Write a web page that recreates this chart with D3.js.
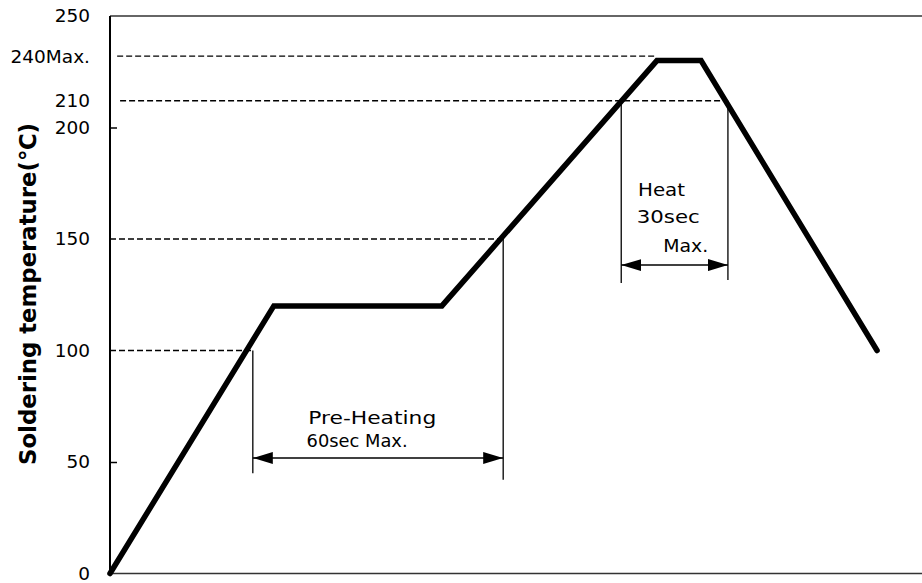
<!DOCTYPE html>
<html>
<head>
<meta charset="utf-8">
<script src="https://cdn.jsdelivr.net/npm/d3@7"></script>
<style>
  body { margin: 0; background: #fff; }
  svg { display: block; }
</style>
</head>
<body>
<div id="chart"></div>
<script>
// reflow profile (time in sec, temperature in degC)
var profileTime = [0, 39, 79, 130.2, 140.7, 182.6];
var profileTemp = [0, 120, 120, 230, 230, 100];

// y axis ticks and their printed labels
var tickValues = [0, 50, 100, 150, 200, 212, 232, 250];
var tickLabels = ["0", "50", "100", "150", "200", "210", "240Max.", "250"];
var tickMarks = [50, 200];

// dashed guide lines
var guideTemp = [100, 150, 212, 232];
var guideFrom = [0, 0, 2.4, 1.7];
var guideTo = [34, 93.6, 147.1, 130.2];

// vertical marker lines
var markTime = [34, 93.6, 121.7, 147.1];
var markTop = [100, 150, 212, 212];
var markBottom = [45, 42, 130.3, 131.6];

// double arrows for the time windows
var spanFrom = [34, 121.7];
var spanTo = [93.6, 147.1];
var spanTemp = [51.8, 138.3];

// annotation texts
var noteText = ["Pre-Heating", "60sec Max.", "Heat", "30sec", "Max."];
var noteTime = [47.2, 46.8, 125.7, 125.4, 131.7];
var noteTemp = [67.0, 56.9, 169.4, 157.0, 144.3];
var noteWidth = [128, 101, 47, 63, 45];

var width = 922, height = 583;
var margin = {top: 16, right: 0, bottom: 9.5, left: 110};

var svg = d3.select("#chart")
  .append("svg")
  .attr("width", width)
  .attr("height", height);

var x = d3.scaleLinear()
  .domain([0, 193.3])
  .range([margin.left, width - margin.right]);

var y = d3.scaleLinear()
  .domain([0, 250])
  .range([height - margin.bottom, margin.top]);

// frame: left axis, top and bottom lines
svg.append("line")
  .attr("x1", x(0)).attr("x2", x(193.3))
  .attr("y1", y(250)).attr("y2", y(250))
  .attr("stroke", "#333").attr("stroke-width", 1.3);
svg.append("line")
  .attr("x1", x(0)).attr("x2", x(193.3))
  .attr("y1", y(0)).attr("y2", y(0))
  .attr("stroke", "#333").attr("stroke-width", 1.3);
svg.append("line")
  .attr("x1", x(0)).attr("x2", x(0))
  .attr("y1", y(250)).attr("y2", y(0))
  .attr("stroke", "#000").attr("stroke-width", 2);

// tick labels
var labelAxis = svg.append("g")
  .attr("transform", "translate(" + margin.left + ",0)")
  .call(d3.axisLeft(y)
    .tickValues(tickValues)
    .tickFormat(function (d, i) { return tickLabels[i]; })
    .tickSize(0)
    .tickPadding(20));
labelAxis.select(".domain").remove();
labelAxis.attr("font-family", null).attr("font-size", null);
labelAxis.selectAll("text")
  .style("font-family", "DejaVu Sans")
  .style("font-size", "18.5px")
  .style("fill", "#000");

// small inward ticks
var markAxis = svg.append("g")
  .attr("transform", "translate(" + margin.left + ",0)")
  .call(d3.axisRight(y)
    .tickValues(tickMarks)
    .tickFormat("")
    .tickSize(7));
markAxis.select(".domain").remove();
markAxis.selectAll("line").attr("stroke", "#000").attr("stroke-width", 1.5);

// y axis title
svg.append("text")
  .attr("transform", "translate(36," + 294 + ") rotate(-90)")
  .attr("text-anchor", "middle")
  .attr("textLength", 342)
  .attr("lengthAdjust", "spacingAndGlyphs")
  .style("font-family", "DejaVu Sans")
  .style("font-weight", "bold")
  .style("font-size", "23px")
  .style("fill", "#000")
  .text("Soldering temperature(℃)");

// dashed guides
guideTemp.forEach(function (t, i) {
  svg.append("line")
    .attr("x1", x(guideFrom[i])).attr("x2", x(guideTo[i]))
    .attr("y1", y(t)).attr("y2", y(t))
    .attr("stroke", "#000")
    .attr("stroke-width", 1.3)
    .attr("stroke-dasharray", "6,3");
});

// vertical markers
markTime.forEach(function (t, i) {
  svg.append("line")
    .attr("x1", x(t)).attr("x2", x(t))
    .attr("y1", y(markTop[i])).attr("y2", y(markBottom[i]))
    .attr("stroke", "#000")
    .attr("stroke-width", 1.3);
});

// arrows
var defs = svg.append("defs");
defs.append("marker")
  .attr("id", "head")
  .attr("viewBox", "0 0 20 12")
  .attr("refX", 20).attr("refY", 6)
  .attr("markerWidth", 20).attr("markerHeight", 12)
  .attr("markerUnits", "userSpaceOnUse")
  .attr("orient", "auto-start-reverse")
  .append("path")
  .attr("d", "M0,0L20,6L0,12Z")
  .attr("fill", "#000");

spanTemp.forEach(function (t, i) {
  svg.append("line")
    .attr("x1", x(spanFrom[i])).attr("x2", x(spanTo[i]))
    .attr("y1", y(t)).attr("y2", y(t))
    .attr("stroke", "#000")
    .attr("stroke-width", 1.5)
    .attr("marker-start", "url(#head)")
    .attr("marker-end", "url(#head)");
});

// annotation text
noteText.forEach(function (s, i) {
  svg.append("text")
    .attr("x", x(noteTime[i]))
    .attr("y", y(noteTemp[i]))
    .attr("textLength", noteWidth[i])
    .attr("lengthAdjust", "spacingAndGlyphs")
    .style("font-family", "DejaVu Sans")
    .style("font-size", "18px")
    .style("fill", "#000")
    .text(s);
});

// the profile itself
var profile = profileTime.map(function (t, i) {
  return {t: t, v: profileTemp[i]};
});

svg.append("path")
  .datum(profile)
  .attr("fill", "none")
  .attr("stroke", "#000")
  .attr("stroke-width", 5.5)
  .attr("stroke-linejoin", "miter")
  .attr("stroke-linecap", "round")
  .attr("d", d3.line()
    .x(function (d) { return x(d.t); })
    .y(function (d) { return y(d.v); }));
</script>
</body>
</html>
